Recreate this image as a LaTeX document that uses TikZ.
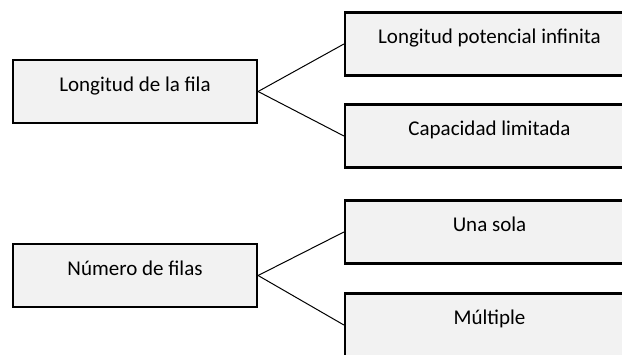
\documentclass[tikz,border=0pt]{standalone}
\usepackage{fontspec}
\setmainfont{Carlito}
\usepackage{xcolor}
\definecolor{fondo}{HTML}{F2F2F2}
\newcommand{\letracaja}{\fontsize{21pt}{25pt}\selectfont}

\begin{document}
\begin{tikzpicture}[x=1pt, y=-1pt,
    caja/.style={draw, line width=2.2pt, fill=fondo, inner sep=0pt,
                 text height=31pt, text depth=32pt, font=\letracaja},
    izq/.style={caja, minimum width=244pt},
    der/.style={caja, minimum width=289pt},
    rama/.style={line width=1pt}]
      \useasboundingbox (0,0) rectangle (622,354);
      \clip (0,0) rectangle (622,354);

      % categorias
      \node[izq] (lon) at (135,91.5)  {Longitud de la fila};
      \node[izq] (num) at (135,275.5) {Número de filas};

      % opciones
      \node[der] (inf) at (489.5,44)  {Longitud potencial infinita};
      \node[der] (cap) at (489.5,136) {Capacidad limitada};
      \node[der] (una) at (489.5,232) {Una sola};
      \node[der] (mul) at (489.5,325) {Múltiple};

      \draw[rama] (lon.east) -- (inf.west);
      \draw[rama] (lon.east) -- (cap.west);
      \draw[rama] (num.east) -- (una.west);
      \draw[rama] (num.east) -- (mul.west);
    \end{tikzpicture}
\end{document}
